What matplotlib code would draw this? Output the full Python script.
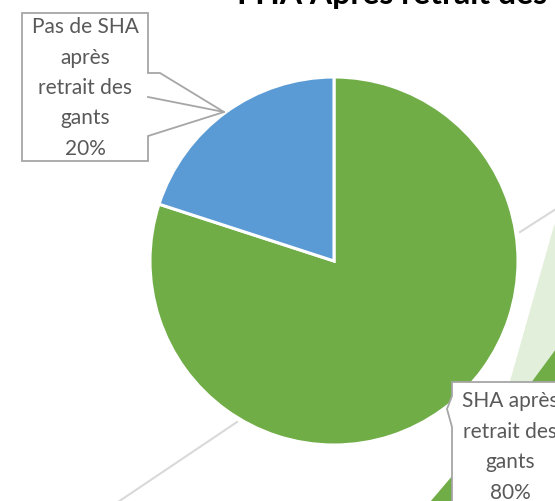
import matplotlib
matplotlib.use("Agg")
import matplotlib.pyplot as plt
from matplotlib.patches import Polygon

title = "FHA Après retrait des gants"
categories = ["SHA après\nretrait des\ngants", "Pas de SHA\naprès\nretrait des\ngants"]
values = [80, 20]
colors = ["#70AD47", "#5B9BD5"]

W, H = 555, 502
fig = plt.figure(figsize=(W / 100, H / 100), dpi=100)
fig.patch.set_facecolor("white")

# background decoration layer (pixel coordinates)
bg = fig.add_axes([0, 0, 1, 1], zorder=0)
bg.set_xlim(0, W); bg.set_ylim(H, 0); bg.axis("off")
bg.add_patch(Polygon([(553, 230), (505, 400), (556, 400), (556, 222)], closed=True,
                     facecolor="#E2EFDA", edgecolor="none"))
bg.add_patch(Polygon([(525, 392), (556, 350), (556, 392)], closed=True,
                     facecolor="#70AD47", edgecolor="none"))
bg.add_patch(Polygon([(430, 503), (453, 476), (453, 503)], closed=True,
                     facecolor="#70AD47", edgecolor="none"))
bg.plot([118, 237], [503, 423], color="#D9D9D9", lw=1.5)
bg.plot([520, 556], [233, 210], color="#D9D9D9", lw=1.5)

# pie
cx, cy, r = 334, 262, 184
ax = fig.add_axes([(cx - r) / W, (H - cy - r) / H, 2 * r / W, 2 * r / H], zorder=1)
ax.pie(values, colors=colors, startangle=90, counterclock=False, radius=1,
       wedgeprops=dict(edgecolor="white", linewidth=2.2))
ax.set_xlim(-1, 1); ax.set_ylim(-1, 1)
ax.set_aspect("equal"); ax.axis("off")

# callouts overlay
ov = fig.add_axes([0, 0, 1, 1], zorder=2)
ov.set_xlim(0, W); ov.set_ylim(H, 0); ov.axis("off")
ov.patch.set_alpha(0)
box1 = [(22, 14), (148, 14), (148, 74), (160, 74), (224, 113), (148, 137),
        (148, 162), (22, 162)]
ov.add_patch(Polygon(box1, closed=True, facecolor="white", edgecolor="#A6A6A6", lw=1.3))
ov.plot([148, 224], [98, 113], color="#A6A6A6", lw=1.3)
box2 = [(452, 383), (575, 383), (575, 515), (452, 515), (452, 428), (447, 410), (452, 397)]
ov.add_patch(Polygon(box2, closed=True, facecolor="white", edgecolor="#A6A6A6", lw=1.3))

font = ["Lato", "DejaVu Sans"]
ov.text(85, 88, f"{categories[1]}\n{values[1]}%", ha="center", va="center",
        fontsize=15, color="#595959", family=font, linespacing=1.65)
ov.text(510, 447, f"{categories[0]}\n{values[0]}%", ha="center", va="center",
        fontsize=15, color="#595959", family=font, linespacing=1.65)

fig.text(237 / W, 1 - 4 / H, title, ha="left", va="baseline", fontsize=23,
         fontweight="bold", color="black", family=font)

fig.savefig("out.png", dpi=100, facecolor="white")
